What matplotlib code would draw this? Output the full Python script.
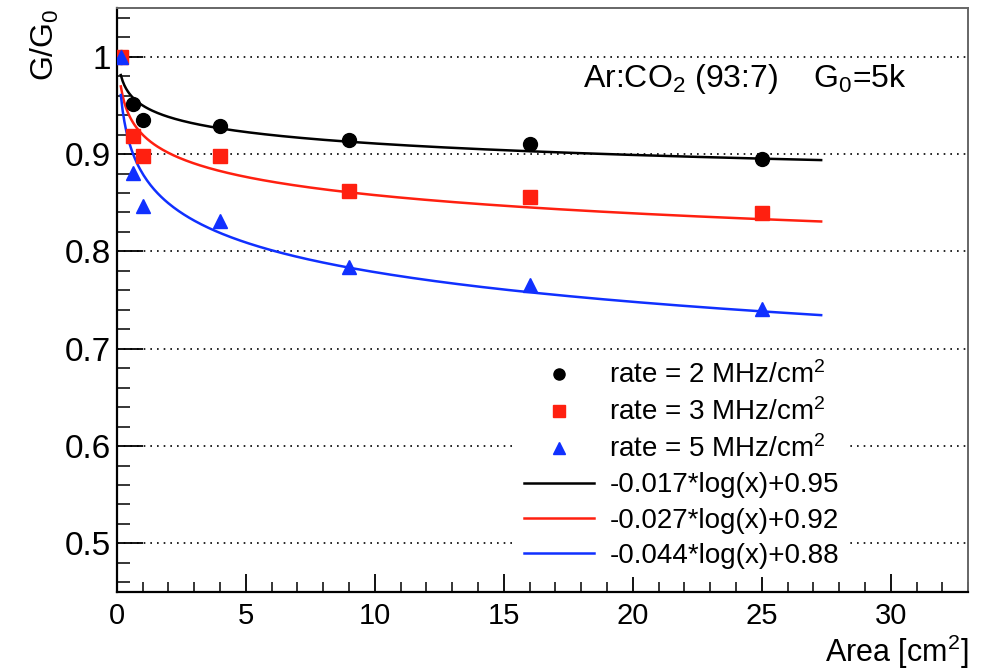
import numpy as np
import matplotlib
matplotlib.use("Agg")
import matplotlib.pyplot as plt
from matplotlib.ticker import MultipleLocator

plt.rcParams["font.family"] = ["Liberation Sans", "DejaVu Sans"]
plt.rcParams["mathtext.fontset"] = "custom"
plt.rcParams["mathtext.rm"] = "Liberation Sans"
plt.rcParams["mathtext.it"] = "Liberation Sans"

# measured gain ratio vs irradiated area
area = [0.16, 0.64, 1, 4, 9, 16, 25]
g_2mhz = [1.0, 0.951, 0.935, 0.929, 0.914, 0.910, 0.895]
g_3mhz = [1.0, 0.919, 0.898, 0.898, 0.862, 0.856, 0.839]
g_5mhz = [1.0, 0.881, 0.847, 0.831, 0.784, 0.765, 0.741]

# fit parameters: slope*log(x)+offset
fit_slope = [-0.017, -0.027, -0.044]
fit_offset = [0.95, 0.92, 0.88]
fit_range = (0.16, 27.3)

colors = ["black", "#ff2010", "#1030ff"]

fig = plt.figure(figsize=(9.89, 6.69), dpi=100)
ax = fig.add_axes([0.118, 0.115, 0.861, 0.873])

ax.plot(area, g_2mhz, "o", color=colors[0], ms=10, label="rate = 2 MHz/cm$^2$", zorder=4)
ax.plot(area, g_3mhz, "s", color=colors[1], ms=10, label="rate = 3 MHz/cm$^2$", zorder=4)
ax.plot(area, g_5mhz, "^", color=colors[2], ms=10, label="rate = 5 MHz/cm$^2$", zorder=4)

xf = np.linspace(fit_range[0], fit_range[1], 400)
for s, o, c in zip(fit_slope, fit_offset, colors):
    ax.plot(xf, s * np.log(xf) + o, "-", color=c, lw=1.8,
            label=f"{s:.3f}*log(x)+{o:.2f}", zorder=3)

ax.set_xlim(0, 33)
ax.set_ylim(0.45, 1.05)
ax.xaxis.set_major_locator(MultipleLocator(5))
ax.xaxis.set_minor_locator(MultipleLocator(1))
ax.yaxis.set_major_locator(MultipleLocator(0.1))
ax.yaxis.set_minor_locator(MultipleLocator(0.02))
ax.yaxis.set_major_formatter(matplotlib.ticker.FuncFormatter(lambda v, p: f"{v:g}"))

ax.tick_params(axis="x", which="major", direction="in", length=13, width=1.3, labelsize=21, pad=7)
ax.tick_params(axis="x", which="minor", direction="in", length=7, width=1.1)
ax.tick_params(axis="y", which="major", direction="in", length=19, width=1.3, labelsize=24, pad=4)
ax.tick_params(axis="y", which="minor", direction="in", length=9.5, width=1.1)

ax.grid(axis="y", which="major", linestyle=(0, (1, 3)), color="black", lw=1.2)

for side in ["left", "bottom"]:
    ax.spines[side].set_linewidth(1.6)
for side in ["top", "right"]:
    ax.spines[side].set_linewidth(1.4)
    ax.spines[side].set_color("#666666")

ax.text(0.548, 0.864, "Ar:CO$_2$ (93:7)    G$_0$=5k", transform=ax.transAxes,
        fontsize=23, ha="left", va="baseline")

fig.text(0.045, 0.988, "G/G$_0$", rotation=90, fontsize=23, ha="center", va="top")
fig.text(0.979, 0.011, "Area [cm$^2$]", fontsize=22, ha="right", va="baseline")

# white legend box without border, hides the grid behind it
leg = ax.legend(loc="upper left", bbox_to_anchor=(0.469, 0.409), frameon=True,
                facecolor="white", edgecolor="none", framealpha=1.0, fancybox=False,
                fontsize=20, handlelength=2.52, handletextpad=0.54, borderpad=0.3,
                borderaxespad=0, labelspacing=0.33, markerscale=0.8)
leg.set_zorder(5)

fig.savefig("out.png", dpi=100)
